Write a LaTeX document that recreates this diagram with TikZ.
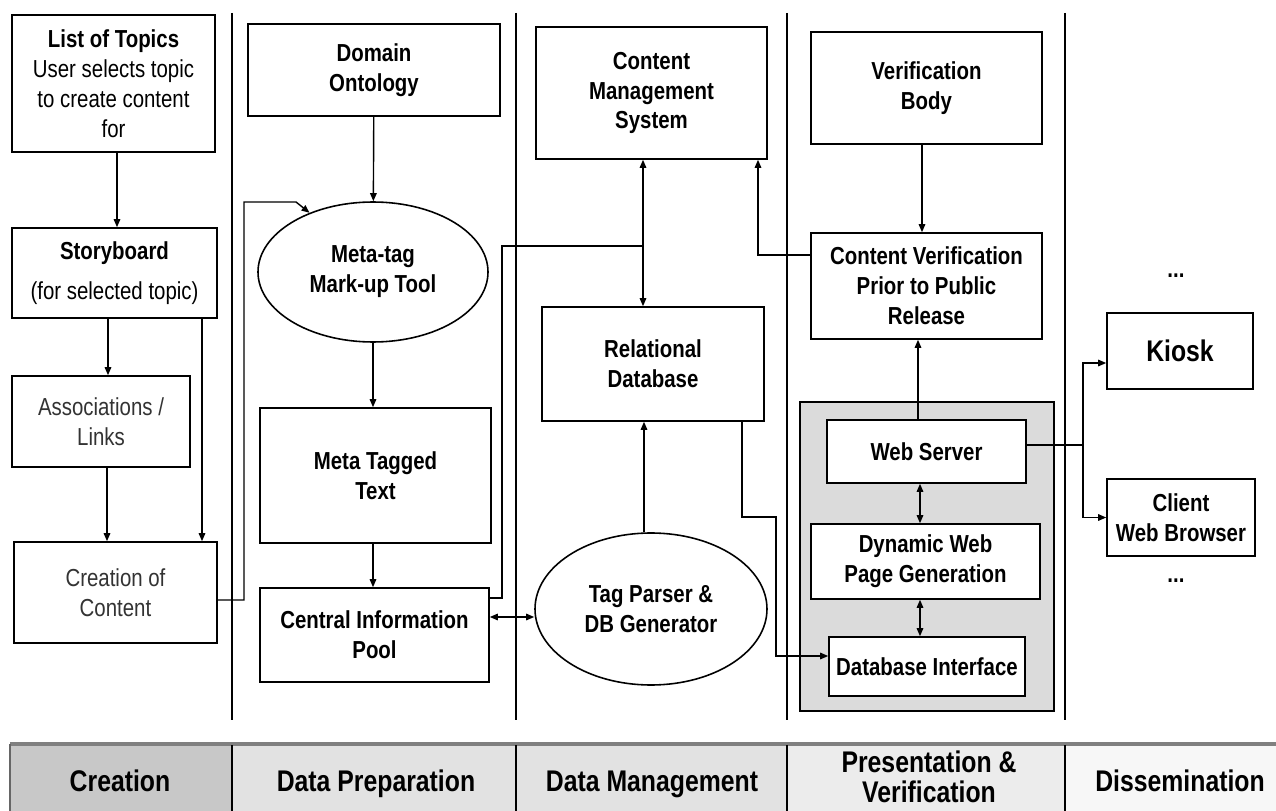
\documentclass[tikz,border=0pt]{standalone}
\usepackage{fontspec}
\setmainfont{Liberation Sans}[FakeStretch=0.83]
\usetikzlibrary{arrows.meta,shapes.geometric}
\definecolor{cellcreate}{HTML}{C8C8C8}
\definecolor{cellmid}{HTML}{E2E2E2}
\definecolor{cellpres}{HTML}{ECECEC}
\definecolor{celldiss}{HTML}{F7F7F7}
\tikzset{
	block/.style={draw, line width=0.9pt, inner sep=0pt, align=center, fill=white, font=\fontsize{14}{17}\selectfont\bfseries},
	plain/.style={block, font=\fontsize{14}{17}\selectfont, text=black!80},
	oval/.style={block, ellipse},
	sz/.style 2 args={minimum width=#1*0.02cm, minimum height=#2*0.02cm},
	arr/.style={-{Triangle[length=1.6mm,width=1.3mm]}, line width=0.8pt},
	dbl/.style={{Triangle[length=1.6mm,width=1.3mm]}-{Triangle[length=1.6mm,width=1.3mm]}, line width=0.8pt},
	lane/.style={line width=1.6pt},
	barlbl/.style={align=center, anchor=base, font=\fontsize{17}{18}\selectfont\bfseries}
}

\begin{document}
\begin{tikzpicture}[x=0.02cm, y=-0.02cm]
		%%%%% START %%%%%
		\useasboundingbox (0,0) rectangle (1276,811);
		
		\foreach \x in {232,516,787,1065} \draw[lane] (\x,13) -- (\x,720);
		
		% creation
		\node[plain, text=black, sz={203}{137}] (topics) at (113.5,83.5) {{\bfseries List of Topics}\\User selects topic\\to create content\\for};
		\node[plain, text=black, sz={205}{90}] (story) at (114.5,273) {{\bfseries Storyboard}\\[6pt](for selected topic)};
		\node[plain, sz={178}{91}] (assoc) at (101,421.5) {Associations /\\Links};
		\node[plain, sz={203}{101}] (creation) at (115.5,592.5) {Creation of\\Content};
		
		% data preparation
		\node[block, sz={252}{92}] (onto) at (374,70) {Domain\\Ontology};
		\node[oval, sz={230}{140}] (markup) at (373,272) {Meta-tag\\Mark-up Tool};
		\node[block, sz={231}{135}] (tagged) at (375.5,475.5) {Meta Tagged\\Text};
		\node[block, sz={229}{94}] (pool) at (374.5,635) {Central Information\\Pool};
		
		% data management
		\node[block, sz={231}{132}] (cms) at (651.5,93) {Content\\Management\\System};
		\node[block, sz={222}{114}] (reldb) at (653,364) {Relational\\Database};
		\node[oval, sz={232}{152}] (parser) at (651,609) {Tag Parser \&\\DB Generator};
		
		% presentation & verification
		\node[block, sz={231}{112}] (verbody) at (926.5,88) {Verification\\Body};
		\node[block, sz={231}{106}] (contver) at (926.5,286) {Content Verification\\Prior to Public\\Release};
		\node[draw, line width=0.9pt, fill=gray!28, sz={254}{309}] (pres) at (927,556.5) {};
		\node[block, sz={199}{63}] (websrv) at (926.5,451.5) {Web Server};
		\node[block, sz={229}{75}] (dynweb) at (925.5,561.5) {Dynamic Web\\Page Generation};
		\node[block, sz={196}{59}] (dbif) at (927,666.5) {Database Interface};
		
		% dissemination
		\node[block, font=\fontsize{17}{18}\selectfont\bfseries, sz={146}{76}] (kiosk) at (1180,351) {Kiosk};
		\node[block, sz={148}{77}] (client) at (1181,517.5) {Client\\Web Browser};
		\node[font=\fontsize{14}{17}\selectfont\bfseries] (dotsup) at (1176,276) {...};
		\node[font=\fontsize{14}{17}\selectfont\bfseries] (dotsdown) at (1176,581) {...};
		
		% arrows
		\draw[arr] (topics.south -| 117,0) -- (story.north -| 117,0);
		\draw[arr] (story.south -| 108,0) -- (assoc.north -| 108,0);
		\draw[arr] (story.south -| 202,0) -- (creation.north -| 202,0);
		\draw[arr] (assoc.south -| 107,0) -- (creation.north -| 107,0);
		\draw[arr] (creation.east |- 0,600) -| (244,202) -- (296,202) -- (markup.137);
		\draw[arr] (onto) -- (markup);
		\draw[arr] (markup.south) -- (markup.south |- tagged.north);
		\draw[arr] (tagged.south -| 373,0) -- (pool.north -| 373,0);
		\draw[arr] (pool.east |- 0,598) -| (502,246) -| (reldb.north -| 643,0);
		\draw[arr] (643,246) -- (cms.south -| 643,0);
		\draw[dbl] (pool.east |- 0,617) -- (parser.west |- 0,617);
		\draw[arr] (parser.north -| 644,0) -- (reldb.south -| 644,0);
		\draw[arr] (reldb.south -| 742,0) |- (776,517) |- (dbif.west |- 0,656);
		\draw[arr] (contver.west |- 0,255) -| (cms.south -| 758,0);
		\draw[arr] (verbody.south -| 922,0) -- (contver.north -| 922,0);
		\draw[arr] (websrv.north -| 918,0) -- (contver.south -| 918,0);
		\draw[dbl] (websrv.south -| 920,0) -- (dynweb.north -| 920,0);
		\draw[dbl] (dynweb.south -| 920,0) -- (dbif.north -| 920,0);
		\draw[arr] (websrv.east |- 0,445) -| (1083,363) -- (kiosk.west |- 0,363);
		\draw[arr] (1083,445) |- (client.west);
		
		% phase bar
		\begin{scope}
			\clip (0,0) rectangle (1276,811);
			\fill[cellcreate] (10,744) rectangle (232,840);
			\fill[cellmid] (232,744) rectangle (787,840);
			\fill[cellpres] (787,744) rectangle (1065,840);
			\fill[celldiss] (1065,744) rectangle (1276,840);
			\draw[line width=2pt, black!50] (10,744) -- (1276,744);
			\draw[line width=1pt, black!60] (10,744) -- (10,840);
			\foreach \x in {232,516,787,1065} \draw[lane] (\x,745) -- (\x,840);
			\node[barlbl] (phcreate) at (120,791) {Creation};
			\node[barlbl] (phprep) at (376,791) {Data Preparation};
			\node[barlbl] (phmanage) at (652,791) {Data Management};
			\node[barlbl, anchor=center, font=\fontsize{17}{17}\selectfont\bfseries] (phpres) at (929,777) {Presentation \&\\Verification};
			\node[barlbl] (phdiss) at (1180,791) {Dissemination};
		\end{scope}
		%%%%% END %%%%%
	\end{tikzpicture}
\end{document}
